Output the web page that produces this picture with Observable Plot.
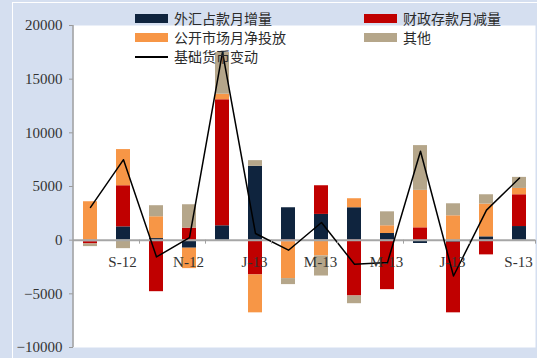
<!DOCTYPE html>
<html><head><meta charset="utf-8">
<script src="https://cdn.jsdelivr.net/npm/d3@7"></script>
<script src="https://cdn.jsdelivr.net/npm/@observablehq/plot@0.6"></script>
<style>
html,body{margin:0;padding:0;background:#d5dff0;}
#wrap{position:relative;width:537px;height:358px;overflow:hidden;background:#d5dff0;}
#border{position:absolute;left:12px;top:2px;width:540px;height:370px;border-left:1.5px solid #fff;border-top:1.5px solid #fff;box-sizing:border-box;}
#chart{position:absolute;left:0;top:0;}
.lg{position:absolute;height:19px;line-height:19px;font-family:"Noto Sans CJK SC";font-size:14px;color:#2b2b2b;white-space:nowrap;}
.sw{position:absolute;left:0;width:33px;}
.lg span.t{position:absolute;white-space:nowrap;}
</style>
</head><body>
<div id="wrap"><div id="border"></div><div id="chart"></div><div id="legend"></div></div>
<script>
const months = ["Aug-12","Sep-12","Oct-12","Nov-12","Dec-12","Jan-13","Feb-13","Mar-13","Apr-13","May-13","Jun-13","Jul-13","Aug-13","Sep-13"];
const tickMonths = ["Sep-12","Nov-12","Jan-13","Mar-13","May-13","Jul-13","Sep-13"];
const tickLabels = ["S-12","N-12","J-13","M-13","M-13","J-13","S-13"];
const yTicks = [-10000,-5000,0,5000,10000,15000,20000];

const seriesNames = ["外汇占款月增量","财政存款月减量","公开市场月净投放","其他"];
const seriesColors = ["#0f243e","#c00000","#f79646","#b5a68a"];
const fxValues     = [-150, 1240,  150, -750,  1340,  6880,  3020,  2400,  3020,   620,  -310,  -190,   310, 1270];
const fiscalValues = [-200, 3830, -4800, 1120, 11740, -3240,  -150,  2670, -5200, -4610,  1150, -6580, -1370, 2960];
const omoValues    = [3580, 3370,  2030, -1900,  520, -3530, -3430, -1470,   840,   720,  3490,  2270,  3050,  590];
const otherValues  = [-250, -790,  1030, 2180,  3880,   530,  -560, -1870,  -720,  1300,  4170,  1120,   870, 1030];
const lineName = "基础货币变动";
const baseValues   = [3050, 7500, -1560,  240, 17530,   620,  -935,  1650, -2240, -2090,  8280, -3340,  2800, 5790];

const seriesValues = [fxValues, fiscalValues, omoValues, otherValues];
const table = [];
seriesNames.forEach((s, k) => months.forEach((m, i) => table.push({month: m, series: s, value: seriesValues[k][i]})));
const lineData = months.map((m, i) => ({month: m, value: baseValues[i]}));
const labelData = tickMonths.map((m, i) => ({month: m, label: tickLabels[i]}));

const plot = Plot.plot({
  width: 537, height: 358,
  marginLeft: 73, marginRight: 2, marginTop: 25, marginBottom: 11,
  style: {background: "transparent", fontFamily: "Liberation Serif", fontSize: "15px", color: "#333"},
  x: {domain: months, paddingInner: 0.58, paddingOuter: 0.29, axis: null},
  y: {domain: [-10000, 20000], axis: null},
  color: {domain: seriesNames, range: seriesColors},
  marks: [
    Plot.frame({fill: "white", stroke: "none"}),
    Plot.axisY({ticks: yTicks, tickSize: 4, tickPadding: 7, stroke: "#999", fill: "#333", fontSize: 15, label: null,
      tickFormat: d => d < 0 ? "\u2212" + Math.abs(d) : String(d)}),
    Plot.barY(table, {x: "month", y: "value", fill: "series", order: seriesNames}),
    Plot.ruleY([0], {stroke: "#a6a6a6", strokeWidth: 2}),
    Plot.lineY(lineData, {x: "month", y: "value", stroke: "#000", strokeWidth: 1.5}),
    Plot.text(labelData, {x: "month", y: 0, dy: 22, dx: -1, text: "label", fill: "#333", fontSize: 15})
  ]
});
document.getElementById("chart").appendChild(plot);

// axis line and category-boundary ticks via the plot's own scales
const xs = plot.scale("x"), ys = plot.scale("y");
const svg = d3.select(plot);
const g = svg.append("g").attr("stroke", "#a0a0a0");
const y0 = ys.apply(0);
g.append("line").attr("x1", 73).attr("x2", 73).attr("y1", ys.apply(20000)).attr("y2", ys.apply(-10000)).attr("stroke-width", 1.5);
tickMonths.forEach(m => {
  const bx = xs.apply(m) + xs.bandwidth + (xs.step - xs.bandwidth) / 2;
  g.append("line").attr("x1", bx).attr("x2", bx).attr("y1", y0).attr("y2", y0 + 4).attr("stroke-width", 1);
});

// legend
const legend = document.getElementById("legend");
const items = [
  {name: seriesNames[0], color: seriesColors[0], x: 135, y: 9},
  {name: seriesNames[1], color: seriesColors[1], x: 364, y: 9},
  {name: seriesNames[2], color: seriesColors[2], x: 135, y: 28},
  {name: seriesNames[3], color: seriesColors[3], x: 364, y: 28},
  {name: lineName, color: "#000", x: 135, y: 47, line: true}
];
items.forEach(it => {
  const d = document.createElement("div");
  d.className = "lg";
  d.style.left = it.x + "px";
  d.style.top = it.y + "px";
  const sw = document.createElement("div");
  sw.className = "sw";
  sw.style.background = it.color;
  sw.style.height = it.line ? "2px" : "9px";
  sw.style.top = it.line ? "9px" : "5px";
  d.appendChild(sw);
  const t = document.createElement("span");
  t.className = "t";
  t.style.left = "39px";
  t.textContent = it.name;
  d.appendChild(t);
  legend.appendChild(d);
});
</script>
</body></html>
